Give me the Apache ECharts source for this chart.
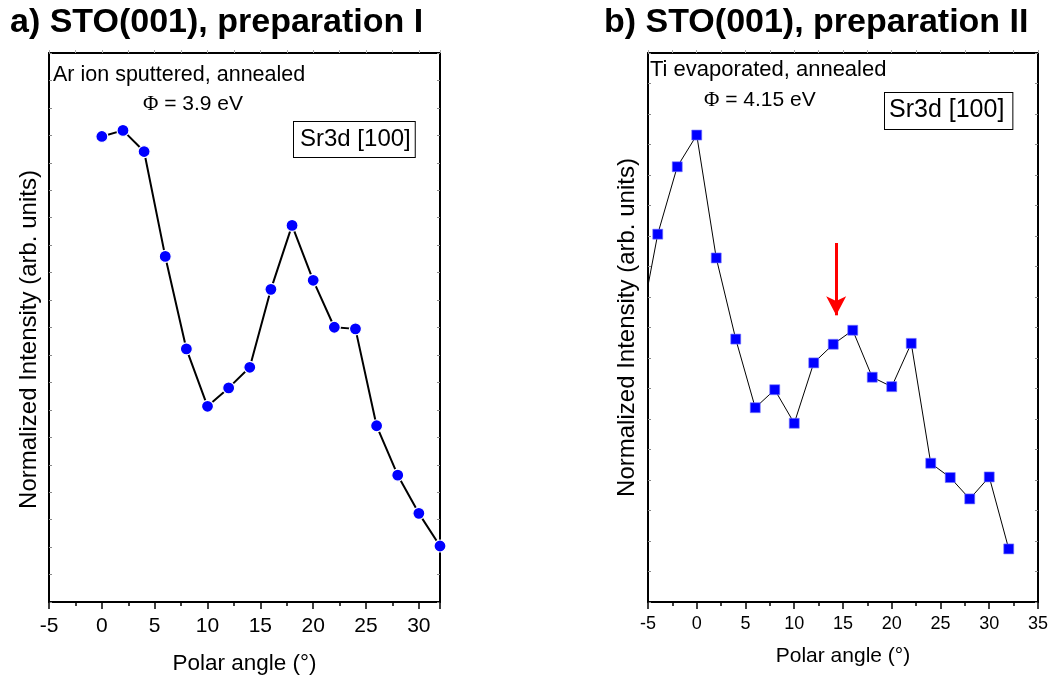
<!DOCTYPE html>
<html>
<head>
<meta charset="utf-8">
<script src="https://cdn.jsdelivr.net/npm/echarts@6/dist/echarts.min.js"></script>
<style>html,body{margin:0;padding:0;background:#fff;}#c{width:1051px;height:683px;}</style>
</head>
<body>
<div id="c"></div>
<script>
// ---- data ----
const anglesA = [0, 2, 4, 6, 8, 10, 12, 14, 16, 18, 20, 22, 24, 26, 28, 30, 32];
const intensityA = [16.96, 17.18, 16.41, 12.59, 9.22, 7.13, 7.80, 8.55, 11.39, 13.72, 11.72, 10.01, 9.95, 6.42, 4.62, 3.23, 2.04];
const anglesB = [-6, -4, -2, 0, 2, 4, 6, 8, 10, 12, 14, 16, 18, 20, 22, 24, 26, 28, 30, 32];
const intensityB = [8.69, 12.06, 14.27, 15.31, 11.28, 8.62, 6.37, 6.96, 5.86, 7.84, 8.45, 8.91, 7.37, 7.06, 8.48, 4.55, 4.08, 3.38, 4.10, 1.74];
const arrowB = { angle: 14.3, from: 11.77, to: 9.40 };
const titles = ['a) STO(001), preparation I', 'b) STO(001), preparation II'];
const notesA = ['Ar ion sputtered, annealed', '{p|\u03A6} = 3.9 eV', 'Sr3d [100]'];
const notesB = ['Ti evaporated, annealed', '{p|\u03A6} = 4.15 eV', 'Sr3d [100]'];
const xName = 'Polar angle (\u00B0)';
const yName = 'Normalized Intensity (arb. units)';

const FONT = "'Liberation Sans', Arial, sans-serif";
const SERIF = "'Liberation Serif', 'Times New Roman', serif";
const chart = echarts.init(document.getElementById('c'), null, { renderer: 'canvas' });

function bottomX(grid, max, labelSize, nameSize, margin, gap) {
  return {
    type: 'value', gridIndex: grid, position: 'bottom', min: -5, max: max, interval: 5,
    axisLine: { show: true, onZero: false, lineStyle: { color: '#000', width: 2 } },
    axisTick: { show: true, inside: false, length: 7, lineStyle: { color: '#000', width: 1.5 } },
    minorTick: { show: true, splitNumber: 2, length: 4, lineStyle: { color: '#000', width: 1.5 } },
    axisLabel: { show: true, margin: margin, fontFamily: FONT, fontSize: labelSize, color: '#000',
      formatter: v => (v % 5 === 0 ? String(v) : '') },
    splitLine: { show: false },
    name: xName, nameLocation: 'middle', nameGap: gap,
    nameTextStyle: { fontFamily: FONT, fontSize: nameSize, color: '#000' }
  };
}
function topX(grid, max) {
  return {
    type: 'value', gridIndex: grid, position: 'top', min: -5, max: max, interval: 2.5,
    axisLine: { show: true, onZero: false, lineStyle: { color: '#000', width: 2 } },
    axisTick: { show: true, inside: false, length: 3, lineStyle: { color: '#aaa', width: 1 } },
    axisLabel: { show: false }, splitLine: { show: false }
  };
}
function leftY(grid, max, gap, namePad) {
  return {
    type: 'value', gridIndex: grid, position: 'left', min: 0, max: max, interval: 1,
    axisLine: { show: true, onZero: false, lineStyle: { color: '#000', width: 2 } },
    axisTick: { show: true, inside: true, length: 3, lineStyle: { color: '#888', width: 1 } },
    axisLabel: { show: false }, splitLine: { show: false },
    name: yName, nameLocation: 'middle', nameGap: gap, nameRotate: 90,
    nameTextStyle: { fontFamily: FONT, fontSize: 24, color: '#000', padding: namePad }
  };
}
function rightY(grid, max) {
  return {
    type: 'value', gridIndex: grid, position: 'right', min: 0, max: max, interval: 1,
    axisLine: { show: true, onZero: false, lineStyle: { color: '#000', width: 2 } },
    axisTick: { show: true, inside: true, length: 3, lineStyle: { color: '#888', width: 1 } },
    axisLabel: { show: false }, splitLine: { show: false }
  };
}

function noteText(x, y, text, size) {
  return {
    type: 'text', left: x, top: y, z: 100,
    style: { text: text, font: size + 'px ' + FONT, fill: '#000',
      rich: { p: { fontFamily: SERIF, fontSize: size } } }
  };
}
function boxText(x, y, text, size, pad) {
  return {
    type: 'text', left: x, top: y, z: 100,
    style: { text: text, font: size + 'px ' + FONT, fill: '#000',
      borderColor: '#000', borderWidth: 1, padding: pad, backgroundColor: '#fff' }
  };
}

const option = {
  backgroundColor: '#fff',
  animation: false,
  title: [
    { text: titles[0], left: 10, top: 6, padding: 0,
      textStyle: { fontFamily: FONT, fontWeight: 'bold', fontSize: 34, color: '#000' } },
    { text: titles[1], left: 604, top: 6, padding: 0,
      textStyle: { fontFamily: FONT, fontWeight: 'bold', fontSize: 34, color: '#000' } }
  ],
  grid: [
    { left: 49, top: 53, width: 391, height: 549, containLabel: false },
    { left: 648, top: 53, width: 390, height: 549, containLabel: false }
  ],
  xAxis: [bottomX(0, 32, 21, 22.5, 14, 50), topX(0, 32), bottomX(1, 35, 18, 21, 13, 44), topX(1, 35)],
  yAxis: [leftY(0, 20, 8, [0, 24, 0, 0]), rightY(0, 20), leftY(1, 18, 9, 0), rightY(1, 18)],
  series: [
    {
      type: 'line', xAxisIndex: 0, yAxisIndex: 0,
      data: anglesA.map((a, i) => [a, intensityA[i]]),
      symbol: 'circle', symbolSize: 12,
      lineStyle: { color: '#000', width: 2 },
      itemStyle: { color: '#0000ff', borderColor: '#fff', borderWidth: 1.2 },
      clip: true
    },
    {
      type: 'line', xAxisIndex: 2, yAxisIndex: 2,
      data: anglesB.map((a, i) => [a, intensityB[i]]),
      symbol: 'rect', symbolSize: 10,
      lineStyle: { color: '#000', width: 1 },
      itemStyle: { color: '#0000ff', borderColor: '#7a7aff', borderWidth: 0.6 },
      clip: true,
      markLine: {
        silent: true, animation: false,
        symbol: ['none', 'arrow'], symbolSize: [15, 19],
        label: { show: false },
        lineStyle: { color: '#ff0000', width: 3, type: 'solid' },
        data: [[{ coord: [arrowB.angle, arrowB.from] }, { coord: [arrowB.angle, arrowB.to] }]]
      }
    }
  ],
  graphic: [
    noteText(53, 64, notesA[0], 21.5),
    noteText(143, 94, notesA[1], 21),
    boxText(293, 121, notesA[2], 24, [5, 4, 6, 6]),
    noteText(650, 59, notesB[0], 22),
    noteText(704, 90, notesB[1], 21),
    boxText(884, 92, notesB[2], 25, [5, 8, 6, 4])
  ]
};
chart.setOption(option);
</script>
</body>
</html>
